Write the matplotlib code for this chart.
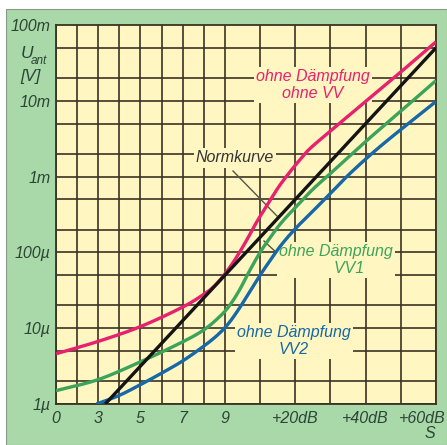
import matplotlib
matplotlib.use("Agg")
import matplotlib.pyplot as plt
from matplotlib.patches import Rectangle
from matplotlib.lines import Line2D
from matplotlib.transforms import ScaledTranslation
import numpy as np

# ---- data (x: dB relative to S9, y: microvolts) ----
x_pink = [-48, -36, -24, -12, -6, -3, 0, 3, 6, 9, 12, 15, 18, 21, 24, 30, 40, 50, 60]
y_pink_uV = [4.6, 6.7, 10.5, 19, 28, 36, 52, 82, 140, 250, 420, 700, 1080, 1600, 2300, 4000, 9800, 24000, 60000]

x_norm = [-34, 0, 60]
y_norm_uV = [1.0, 50, 50000]

x_green = [-48, -36, -24, -12, -6, -2, 1, 4, 7, 10, 13, 16, 20, 25, 30, 40, 50, 60]
y_green_uV = [1.5, 2.1, 3.6, 6.6, 9.5, 13.5, 19, 31, 57, 100, 160, 245, 390, 680, 1100, 2900, 7300, 18500]

x_blue = [-36.5, -30, -24, -18, -12, -6, -2, 1, 4, 7, 10, 13, 16, 20, 25, 30, 36, 45, 60]
y_blue_uV = [1.0, 1.3, 1.8, 2.55, 3.7, 5.8, 8.2, 11.5, 18, 30, 50, 80, 125, 205, 350, 600, 1150, 2700, 9800]

xtick_pos = [-48, -36, -24, -12, 0, 20, 40, 60]
xtick_labels = ["0", "3", "5", "7", "9", "+20dB", "+40dB", "+60dB"]
ytick_vals = [1e-6, 1e-5, 1e-4, 1e-3, 1e-2, 1e-1]
ytick_labels = ["1\u00b5", "10\u00b5", "100\u00b5", "1m", "10m", "100m"]

vgrid = [-48, -42, -36, -30, -24, -18, -12, -6, 0, 10, 20, 30, 40, 50, 60]

# ---- style ----
PANEL = "#a9d8a9"
PLOTBG = "#fff6c2"
GRID = "#3b3323"
TXT = "#2c4535"
PINK = "#e8216e"
BLACK = "#141414"
GREEN = "#3ca45a"
BLUE = "#1768a6"

plt.rcParams['font.family'] = ['Liberation Sans', 'DejaVu Sans']

W, H = 447, 445
fig = plt.figure(figsize=(W/100, H/100), dpi=100, facecolor="white")
fig.patches.append(Rectangle((6/W, 0), 1 - 6/W, (H-9)/H, transform=fig.transFigure,
                             facecolor=PANEL, edgecolor="#8a9a8a", linewidth=0.8, zorder=-10))

L, R, T, B = 56, 436, 25, 404
ax = fig.add_axes([L/W, (H-B)/H, (R-L)/W, (B-T)/H])
ax.set_zorder(1)
ax.set_facecolor(PLOTBG)
ax.set_yscale('log')
ax.set_xlim(-48, 60)
ax.set_ylim(1e-6, 1e-1)

# grid
for xv in vgrid:
    ax.axvline(xv, color=GRID, lw=1.2, zorder=1)
for dec in range(-6, -1):
    for m in (1, 2, 5):
        ax.axhline(m * 10.0**dec, color=GRID, lw=1.2, zorder=1)

for s in ax.spines.values():
    s.set_color(GRID)
    s.set_linewidth(1.3)


def smooth(xs, ys, n=16):
    """Catmull-Rom drawing path through the given points (in x / log10 y)."""
    xs = np.asarray(xs, float)
    ly = np.log10(np.asarray(ys, float))
    if len(xs) < 3:
        return xs, 10 ** ly
    px = np.concatenate([[2*xs[0]-xs[1]], xs, [2*xs[-1]-xs[-2]]])
    py = np.concatenate([[2*ly[0]-ly[1]], ly, [2*ly[-1]-ly[-2]]])
    ox, oy = [], []
    t = np.linspace(0, 1, n, endpoint=False)
    for i in range(1, len(px) - 2):
        for arr, out in ((px, ox), (py, oy)):
            p0, p1, p2, p3 = arr[i-1], arr[i], arr[i+1], arr[i+2]
            out.extend(0.5 * ((2*p1) + (-p0 + p2)*t + (2*p0 - 5*p1 + 4*p2 - p3)*t**2
                              + (-p0 + 3*p1 - 3*p2 + p3)*t**3))
    ox.append(xs[-1]); oy.append(ly[-1])
    return np.array(ox), 10 ** np.array(oy)


uv = 1e-6
kw = dict(lw=2.4, solid_capstyle='butt', solid_joinstyle='round', zorder=5, clip_on=True)
for xs, ys, c in ((x_pink, y_pink_uV, PINK), (x_green, y_green_uV, GREEN),
                  (x_blue, y_blue_uV, BLUE), (x_norm, y_norm_uV, BLACK)):
    sx, sy = smooth(xs, np.array(ys) * uv)
    ax.plot(sx, sy, color=c, **kw)

ax.set_xticks(xtick_pos)
ax.set_xticklabels(xtick_labels, fontsize=11.5, style='italic', color=TXT)
ax.set_yticks(ytick_vals)
ax.set_yticklabels(ytick_labels, fontsize=11.5, style='italic', color=TXT)
ax.minorticks_off()
ax.tick_params(length=0, pad=4)
ax.tick_params(axis='x', pad=5)
lastlab = ax.get_xticklabels()[-1]
lastlab.set_horizontalalignment('right')
lastlab.set_transform(lastlab.get_transform() + ScaledTranslation(10/100, 0, fig.dpi_scale_trans))


def px2data(px, py):
    xd = -48 + (px - L) / (R - L) * 108
    yd = 10 ** (-6 + (B - py) / (B - T) * 5)
    return xd, yd


bb = dict(facecolor=PLOTBG, edgecolor='none', pad=1.5)
tkw = dict(fontsize=11.5, style='italic', ha='center', va='center', linespacing=1.2,
           bbox=bb, zorder=4)

xt, yt = px2data(313, 85)
ax.text(xt, yt, "ohne Dämpfung\nohne VV", color=PINK, **tkw)

xt, yt = px2data(235, 158)
ax.text(xt, yt, "Normkurve", color="#333333", **tkw)
x1, y1 = px2data(233, 171)
x2, y2 = px2data(277, 216)
ax.add_line(Line2D([x1, x2], [y1, y2], color="#555545", lw=1.0, zorder=3))

xt, yt = px2data(336, 260)
ax.text(xt, yt, "ohne Dämpfung\n      VV1", color=GREEN, **tkw)
x1, y1 = px2data(293, 268)
x2, y2 = px2data(264, 241)
ax.add_line(Line2D([x1, x2], [y1, y2], color="#555545", lw=1.0, zorder=3))

xt, yt = px2data(294, 341)
ax.text(xt, yt, "ohne Dämpfung\nVV2", color=BLUE, **tkw)

# axis titles
fig.text(21/W, 1 - 54/H, "U", fontsize=12.5, style='italic', color=TXT, ha='left', va='center')
fig.text(31/W, 1 - 61/H, "ant", fontsize=8.5, style='italic', color=TXT, ha='left', va='center')
fig.text(20/W, 1 - 76/H, "[V]", fontsize=12, style='italic', color=TXT, ha='left', va='center')
fig.text(430/W, 1 - 433/H, "S", fontsize=11.5, style='italic', color=TXT, ha='center', va='center')

fig.savefig("out.png", dpi=100, facecolor="white")
